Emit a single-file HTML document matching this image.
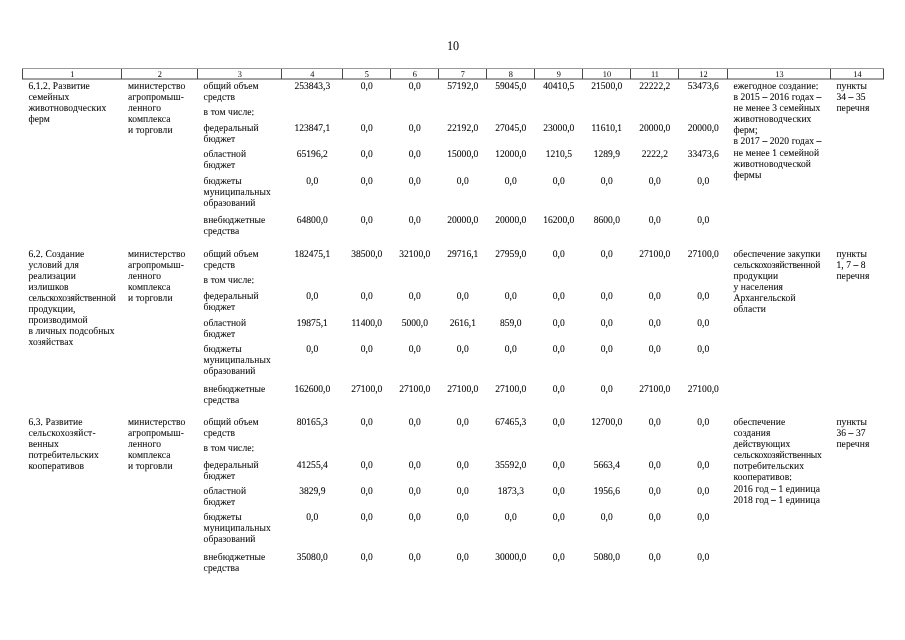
<!DOCTYPE html>
<html lang="ru"><head><meta charset="utf-8"><title>10</title><style>
html,body{margin:0;padding:0;background:#fff;}
body{width:905px;height:640px;position:relative;overflow:hidden;text-rendering:geometricPrecision;-webkit-text-stroke:0.05px #000;font-family:"Liberation Serif",serif;color:#000;}
.t{position:absolute;transform:scaleY(1.07);transform-origin:0 8px;font-size:9.55px;line-height:11px;white-space:nowrap;letter-spacing:0.08px;}
.n{position:absolute;transform:scaleY(1.07);transform-origin:0 8px;font-size:9.55px;line-height:11px;white-space:nowrap;text-align:center;}
.h{position:absolute;-webkit-text-stroke:0;transform:scaleY(1.06);transform-origin:50% 7px;font-size:8.3px;line-height:9px;text-align:center;top:70px;}
.pg{position:absolute;-webkit-text-stroke:0;left:422.7px;width:60px;text-align:center;top:37.9px;font-size:13.1px;line-height:15px;text-rendering:geometricPrecision;transform:scaleX(0.93);transform-origin:50% 50%;}
.ln{position:absolute;background:#555;}
</style></head><body>
<div class="pg">10</div>
<div class="ln" style="left:22px;top:68px;width:862px;height:1px;background:#999"></div>
<div class="ln" style="left:22px;top:78px;width:862px;height:2px;background:#a2a2a2"></div>
<div class="ln" style="left:22px;top:69px;width:1px;height:10px;background:#4a4a4a"></div>
<div class="ln" style="left:121px;top:69px;width:1px;height:10px;background:#4a4a4a"></div>
<div class="ln" style="left:197px;top:69px;width:1px;height:10px;background:#4a4a4a"></div>
<div class="ln" style="left:281px;top:69px;width:1px;height:10px;background:#4a4a4a"></div>
<div class="ln" style="left:342px;top:69px;width:1px;height:10px;background:#4a4a4a"></div>
<div class="ln" style="left:390px;top:69px;width:1px;height:10px;background:#4a4a4a"></div>
<div class="ln" style="left:438px;top:69px;width:1px;height:10px;background:#4a4a4a"></div>
<div class="ln" style="left:486px;top:69px;width:1px;height:10px;background:#4a4a4a"></div>
<div class="ln" style="left:534px;top:69px;width:1px;height:10px;background:#4a4a4a"></div>
<div class="ln" style="left:582px;top:69px;width:1px;height:10px;background:#4a4a4a"></div>
<div class="ln" style="left:630px;top:69px;width:1px;height:10px;background:#4a4a4a"></div>
<div class="ln" style="left:678px;top:69px;width:1px;height:10px;background:#4a4a4a"></div>
<div class="ln" style="left:727px;top:69px;width:1px;height:10px;background:#4a4a4a"></div>
<div class="ln" style="left:830px;top:69px;width:1px;height:10px;background:#4a4a4a"></div>
<div class="ln" style="left:883px;top:69px;width:1px;height:10px;background:#4a4a4a"></div>
<div class="h" style="left:23.4px;width:98px">1</div>
<div class="h" style="left:122.4px;width:75px">2</div>
<div class="h" style="left:198.4px;width:83px">3</div>
<div class="h" style="left:282.4px;width:60px">4</div>
<div class="h" style="left:343.4px;width:47px">5</div>
<div class="h" style="left:391.4px;width:47px">6</div>
<div class="h" style="left:439.4px;width:47px">7</div>
<div class="h" style="left:487.4px;width:47px">8</div>
<div class="h" style="left:535.4px;width:47px">9</div>
<div class="h" style="left:583.4px;width:47px">10</div>
<div class="h" style="left:631.4px;width:47px">11</div>
<div class="h" style="left:679.4px;width:48px">12</div>
<div class="h" style="left:728.4px;width:102px">13</div>
<div class="h" style="left:831.4px;width:52px">14</div>
<div class="t" style="left:28.4px;top:81px;">6.1.2. Развитие</div>
<div class="t" style="left:28.4px;top:92px;">семейных</div>
<div class="t" style="left:28.4px;top:103px;">животноводческих</div>
<div class="t" style="left:28.4px;top:114px;">ферм</div>
<div class="t" style="left:128.0px;top:81px;">министерство</div>
<div class="t" style="left:128.0px;top:92px;">агропромыш-</div>
<div class="t" style="left:128.0px;top:103px;">ленного</div>
<div class="t" style="left:128.0px;top:114px;">комплекса</div>
<div class="t" style="left:128.0px;top:125px;">и торговли</div>
<div class="t" style="left:203.6px;top:81px;">общий объем</div>
<div class="t" style="left:203.6px;top:92px;">средств</div>
<div class="t" style="left:203.6px;top:107px;">в том числе:</div>
<div class="t" style="left:203.6px;top:123px;">федеральный</div>
<div class="t" style="left:203.6px;top:134px;">бюджет</div>
<div class="t" style="left:203.6px;top:149px;">областной</div>
<div class="t" style="left:203.6px;top:160px;">бюджет</div>
<div class="t" style="left:203.6px;top:176px;">бюджеты</div>
<div class="t" style="left:203.6px;top:187px;">муниципальных</div>
<div class="t" style="left:203.6px;top:198px;">образований</div>
<div class="t" style="left:203.6px;top:215px;">внебюджетные</div>
<div class="t" style="left:203.6px;top:226px;">средства</div>
<div class="n" style="left:281.8px;top:81px;width:61.0px;">253843,3</div>
<div class="n" style="left:342.8px;top:81px;width:48.0px;">0,0</div>
<div class="n" style="left:390.8px;top:81px;width:48.0px;">0,0</div>
<div class="n" style="left:438.8px;top:81px;width:48.0px;">57192,0</div>
<div class="n" style="left:486.8px;top:81px;width:48.0px;">59045,0</div>
<div class="n" style="left:534.8px;top:81px;width:48.0px;">40410,5</div>
<div class="n" style="left:582.8px;top:81px;width:48.0px;">21500,0</div>
<div class="n" style="left:630.8px;top:81px;width:48.0px;">22222,2</div>
<div class="n" style="left:678.8px;top:81px;width:49.0px;">53473,6</div>
<div class="n" style="left:281.8px;top:123px;width:61.0px;">123847,1</div>
<div class="n" style="left:342.8px;top:123px;width:48.0px;">0,0</div>
<div class="n" style="left:390.8px;top:123px;width:48.0px;">0,0</div>
<div class="n" style="left:438.8px;top:123px;width:48.0px;">22192,0</div>
<div class="n" style="left:486.8px;top:123px;width:48.0px;">27045,0</div>
<div class="n" style="left:534.8px;top:123px;width:48.0px;">23000,0</div>
<div class="n" style="left:582.8px;top:123px;width:48.0px;">11610,1</div>
<div class="n" style="left:630.8px;top:123px;width:48.0px;">20000,0</div>
<div class="n" style="left:678.8px;top:123px;width:49.0px;">20000,0</div>
<div class="n" style="left:281.8px;top:149px;width:61.0px;">65196,2</div>
<div class="n" style="left:342.8px;top:149px;width:48.0px;">0,0</div>
<div class="n" style="left:390.8px;top:149px;width:48.0px;">0,0</div>
<div class="n" style="left:438.8px;top:149px;width:48.0px;">15000,0</div>
<div class="n" style="left:486.8px;top:149px;width:48.0px;">12000,0</div>
<div class="n" style="left:534.8px;top:149px;width:48.0px;">1210,5</div>
<div class="n" style="left:582.8px;top:149px;width:48.0px;">1289,9</div>
<div class="n" style="left:630.8px;top:149px;width:48.0px;">2222,2</div>
<div class="n" style="left:678.8px;top:149px;width:49.0px;">33473,6</div>
<div class="n" style="left:281.8px;top:176px;width:61.0px;">0,0</div>
<div class="n" style="left:342.8px;top:176px;width:48.0px;">0,0</div>
<div class="n" style="left:390.8px;top:176px;width:48.0px;">0,0</div>
<div class="n" style="left:438.8px;top:176px;width:48.0px;">0,0</div>
<div class="n" style="left:486.8px;top:176px;width:48.0px;">0,0</div>
<div class="n" style="left:534.8px;top:176px;width:48.0px;">0,0</div>
<div class="n" style="left:582.8px;top:176px;width:48.0px;">0,0</div>
<div class="n" style="left:630.8px;top:176px;width:48.0px;">0,0</div>
<div class="n" style="left:678.8px;top:176px;width:49.0px;">0,0</div>
<div class="n" style="left:281.8px;top:215px;width:61.0px;">64800,0</div>
<div class="n" style="left:342.8px;top:215px;width:48.0px;">0,0</div>
<div class="n" style="left:390.8px;top:215px;width:48.0px;">0,0</div>
<div class="n" style="left:438.8px;top:215px;width:48.0px;">20000,0</div>
<div class="n" style="left:486.8px;top:215px;width:48.0px;">20000,0</div>
<div class="n" style="left:534.8px;top:215px;width:48.0px;">16200,0</div>
<div class="n" style="left:582.8px;top:215px;width:48.0px;">8600,0</div>
<div class="n" style="left:630.8px;top:215px;width:48.0px;">0,0</div>
<div class="n" style="left:678.8px;top:215px;width:49.0px;">0,0</div>
<div class="t" style="left:733.5px;top:81px;">ежегодное создание:</div>
<div class="t" style="left:733.5px;top:92px;">в 2015 – 2016 годах –</div>
<div class="t" style="left:733.5px;top:103px;">не менее 3 семейных</div>
<div class="t" style="left:733.5px;top:114px;">животноводческих</div>
<div class="t" style="left:733.5px;top:125px;">ферм;</div>
<div class="t" style="left:733.5px;top:136px;">в 2017 – 2020 годах –</div>
<div class="t" style="left:733.5px;top:148px;">не менее 1 семейной</div>
<div class="t" style="left:733.5px;top:159px;">животноводческой</div>
<div class="t" style="left:733.5px;top:170px;">фермы</div>
<div class="t" style="left:836.4px;top:81px;">пункты</div>
<div class="t" style="left:836.4px;top:92px;">34 – 35</div>
<div class="t" style="left:836.4px;top:103px;">перечня</div>
<div class="t" style="left:28.4px;top:249px;">6.2. Создание</div>
<div class="t" style="left:28.4px;top:260px;">условий для</div>
<div class="t" style="left:28.4px;top:271px;">реализации</div>
<div class="t" style="left:28.4px;top:282px;">излишков</div>
<div class="t" style="left:28.4px;top:293px;letter-spacing:-0.145px;">сельскохозяйственной</div>
<div class="t" style="left:28.4px;top:304px;">продукции,</div>
<div class="t" style="left:28.4px;top:315px;">производимой</div>
<div class="t" style="left:28.4px;top:326px;">в личных подсобных</div>
<div class="t" style="left:28.4px;top:337px;">хозяйствах</div>
<div class="t" style="left:128.0px;top:249px;">министерство</div>
<div class="t" style="left:128.0px;top:260px;">агропромыш-</div>
<div class="t" style="left:128.0px;top:271px;">ленного</div>
<div class="t" style="left:128.0px;top:282px;">комплекса</div>
<div class="t" style="left:128.0px;top:293px;">и торговли</div>
<div class="t" style="left:203.6px;top:249px;">общий объем</div>
<div class="t" style="left:203.6px;top:260px;">средств</div>
<div class="t" style="left:203.6px;top:275px;">в том числе:</div>
<div class="t" style="left:203.6px;top:291px;">федеральный</div>
<div class="t" style="left:203.6px;top:302px;">бюджет</div>
<div class="t" style="left:203.6px;top:318px;">областной</div>
<div class="t" style="left:203.6px;top:329px;">бюджет</div>
<div class="t" style="left:203.6px;top:344px;">бюджеты</div>
<div class="t" style="left:203.6px;top:355px;">муниципальных</div>
<div class="t" style="left:203.6px;top:366px;">образований</div>
<div class="t" style="left:203.6px;top:384px;">внебюджетные</div>
<div class="t" style="left:203.6px;top:395px;">средства</div>
<div class="n" style="left:281.8px;top:249px;width:61.0px;">182475,1</div>
<div class="n" style="left:342.8px;top:249px;width:48.0px;">38500,0</div>
<div class="n" style="left:390.8px;top:249px;width:48.0px;">32100,0</div>
<div class="n" style="left:438.8px;top:249px;width:48.0px;">29716,1</div>
<div class="n" style="left:486.8px;top:249px;width:48.0px;">27959,0</div>
<div class="n" style="left:534.8px;top:249px;width:48.0px;">0,0</div>
<div class="n" style="left:582.8px;top:249px;width:48.0px;">0,0</div>
<div class="n" style="left:630.8px;top:249px;width:48.0px;">27100,0</div>
<div class="n" style="left:678.8px;top:249px;width:49.0px;">27100,0</div>
<div class="n" style="left:281.8px;top:291px;width:61.0px;">0,0</div>
<div class="n" style="left:342.8px;top:291px;width:48.0px;">0,0</div>
<div class="n" style="left:390.8px;top:291px;width:48.0px;">0,0</div>
<div class="n" style="left:438.8px;top:291px;width:48.0px;">0,0</div>
<div class="n" style="left:486.8px;top:291px;width:48.0px;">0,0</div>
<div class="n" style="left:534.8px;top:291px;width:48.0px;">0,0</div>
<div class="n" style="left:582.8px;top:291px;width:48.0px;">0,0</div>
<div class="n" style="left:630.8px;top:291px;width:48.0px;">0,0</div>
<div class="n" style="left:678.8px;top:291px;width:49.0px;">0,0</div>
<div class="n" style="left:281.8px;top:318px;width:61.0px;">19875,1</div>
<div class="n" style="left:342.8px;top:318px;width:48.0px;">11400,0</div>
<div class="n" style="left:390.8px;top:318px;width:48.0px;">5000,0</div>
<div class="n" style="left:438.8px;top:318px;width:48.0px;">2616,1</div>
<div class="n" style="left:486.8px;top:318px;width:48.0px;">859,0</div>
<div class="n" style="left:534.8px;top:318px;width:48.0px;">0,0</div>
<div class="n" style="left:582.8px;top:318px;width:48.0px;">0,0</div>
<div class="n" style="left:630.8px;top:318px;width:48.0px;">0,0</div>
<div class="n" style="left:678.8px;top:318px;width:49.0px;">0,0</div>
<div class="n" style="left:281.8px;top:344px;width:61.0px;">0,0</div>
<div class="n" style="left:342.8px;top:344px;width:48.0px;">0,0</div>
<div class="n" style="left:390.8px;top:344px;width:48.0px;">0,0</div>
<div class="n" style="left:438.8px;top:344px;width:48.0px;">0,0</div>
<div class="n" style="left:486.8px;top:344px;width:48.0px;">0,0</div>
<div class="n" style="left:534.8px;top:344px;width:48.0px;">0,0</div>
<div class="n" style="left:582.8px;top:344px;width:48.0px;">0,0</div>
<div class="n" style="left:630.8px;top:344px;width:48.0px;">0,0</div>
<div class="n" style="left:678.8px;top:344px;width:49.0px;">0,0</div>
<div class="n" style="left:281.8px;top:384px;width:61.0px;">162600,0</div>
<div class="n" style="left:342.8px;top:384px;width:48.0px;">27100,0</div>
<div class="n" style="left:390.8px;top:384px;width:48.0px;">27100,0</div>
<div class="n" style="left:438.8px;top:384px;width:48.0px;">27100,0</div>
<div class="n" style="left:486.8px;top:384px;width:48.0px;">27100,0</div>
<div class="n" style="left:534.8px;top:384px;width:48.0px;">0,0</div>
<div class="n" style="left:582.8px;top:384px;width:48.0px;">0,0</div>
<div class="n" style="left:630.8px;top:384px;width:48.0px;">27100,0</div>
<div class="n" style="left:678.8px;top:384px;width:49.0px;">27100,0</div>
<div class="t" style="left:733.5px;top:249px;">обеспечение закупки</div>
<div class="t" style="left:733.5px;top:260px;letter-spacing:-0.185px;">сельскохозяйственной</div>
<div class="t" style="left:733.5px;top:271px;">продукции</div>
<div class="t" style="left:733.5px;top:282px;">у населения</div>
<div class="t" style="left:733.5px;top:293px;">Архангельской</div>
<div class="t" style="left:733.5px;top:304px;">области</div>
<div class="t" style="left:836.4px;top:249px;">пункты</div>
<div class="t" style="left:836.4px;top:260px;">1, 7 – 8</div>
<div class="t" style="left:836.4px;top:271px;">перечня</div>
<div class="t" style="left:28.4px;top:417px;">6.3. Развитие</div>
<div class="t" style="left:28.4px;top:428px;letter-spacing:0.18px;">сельскохозяйст-</div>
<div class="t" style="left:28.4px;top:439px;">венных</div>
<div class="t" style="left:28.4px;top:450px;">потребительских</div>
<div class="t" style="left:28.4px;top:461px;">кооперативов</div>
<div class="t" style="left:128.0px;top:417px;">министерство</div>
<div class="t" style="left:128.0px;top:428px;">агропромыш-</div>
<div class="t" style="left:128.0px;top:439px;">ленного</div>
<div class="t" style="left:128.0px;top:450px;">комплекса</div>
<div class="t" style="left:128.0px;top:461px;">и торговли</div>
<div class="t" style="left:203.6px;top:417px;">общий объем</div>
<div class="t" style="left:203.6px;top:428px;">средств</div>
<div class="t" style="left:203.6px;top:443px;">в том числе:</div>
<div class="t" style="left:203.6px;top:460px;">федеральный</div>
<div class="t" style="left:203.6px;top:471px;">бюджет</div>
<div class="t" style="left:203.6px;top:486px;">областной</div>
<div class="t" style="left:203.6px;top:497px;">бюджет</div>
<div class="t" style="left:203.6px;top:512px;">бюджеты</div>
<div class="t" style="left:203.6px;top:523px;">муниципальных</div>
<div class="t" style="left:203.6px;top:534px;">образований</div>
<div class="t" style="left:203.6px;top:552px;">внебюджетные</div>
<div class="t" style="left:203.6px;top:563px;">средства</div>
<div class="n" style="left:281.8px;top:417px;width:61.0px;">80165,3</div>
<div class="n" style="left:342.8px;top:417px;width:48.0px;">0,0</div>
<div class="n" style="left:390.8px;top:417px;width:48.0px;">0,0</div>
<div class="n" style="left:438.8px;top:417px;width:48.0px;">0,0</div>
<div class="n" style="left:486.8px;top:417px;width:48.0px;">67465,3</div>
<div class="n" style="left:534.8px;top:417px;width:48.0px;">0,0</div>
<div class="n" style="left:582.8px;top:417px;width:48.0px;">12700,0</div>
<div class="n" style="left:630.8px;top:417px;width:48.0px;">0,0</div>
<div class="n" style="left:678.8px;top:417px;width:49.0px;">0,0</div>
<div class="n" style="left:281.8px;top:460px;width:61.0px;">41255,4</div>
<div class="n" style="left:342.8px;top:460px;width:48.0px;">0,0</div>
<div class="n" style="left:390.8px;top:460px;width:48.0px;">0,0</div>
<div class="n" style="left:438.8px;top:460px;width:48.0px;">0,0</div>
<div class="n" style="left:486.8px;top:460px;width:48.0px;">35592,0</div>
<div class="n" style="left:534.8px;top:460px;width:48.0px;">0,0</div>
<div class="n" style="left:582.8px;top:460px;width:48.0px;">5663,4</div>
<div class="n" style="left:630.8px;top:460px;width:48.0px;">0,0</div>
<div class="n" style="left:678.8px;top:460px;width:49.0px;">0,0</div>
<div class="n" style="left:281.8px;top:486px;width:61.0px;">3829,9</div>
<div class="n" style="left:342.8px;top:486px;width:48.0px;">0,0</div>
<div class="n" style="left:390.8px;top:486px;width:48.0px;">0,0</div>
<div class="n" style="left:438.8px;top:486px;width:48.0px;">0,0</div>
<div class="n" style="left:486.8px;top:486px;width:48.0px;">1873,3</div>
<div class="n" style="left:534.8px;top:486px;width:48.0px;">0,0</div>
<div class="n" style="left:582.8px;top:486px;width:48.0px;">1956,6</div>
<div class="n" style="left:630.8px;top:486px;width:48.0px;">0,0</div>
<div class="n" style="left:678.8px;top:486px;width:49.0px;">0,0</div>
<div class="n" style="left:281.8px;top:512px;width:61.0px;">0,0</div>
<div class="n" style="left:342.8px;top:512px;width:48.0px;">0,0</div>
<div class="n" style="left:390.8px;top:512px;width:48.0px;">0,0</div>
<div class="n" style="left:438.8px;top:512px;width:48.0px;">0,0</div>
<div class="n" style="left:486.8px;top:512px;width:48.0px;">0,0</div>
<div class="n" style="left:534.8px;top:512px;width:48.0px;">0,0</div>
<div class="n" style="left:582.8px;top:512px;width:48.0px;">0,0</div>
<div class="n" style="left:630.8px;top:512px;width:48.0px;">0,0</div>
<div class="n" style="left:678.8px;top:512px;width:49.0px;">0,0</div>
<div class="n" style="left:281.8px;top:552px;width:61.0px;">35080,0</div>
<div class="n" style="left:342.8px;top:552px;width:48.0px;">0,0</div>
<div class="n" style="left:390.8px;top:552px;width:48.0px;">0,0</div>
<div class="n" style="left:438.8px;top:552px;width:48.0px;">0,0</div>
<div class="n" style="left:486.8px;top:552px;width:48.0px;">30000,0</div>
<div class="n" style="left:534.8px;top:552px;width:48.0px;">0,0</div>
<div class="n" style="left:582.8px;top:552px;width:48.0px;">5080,0</div>
<div class="n" style="left:630.8px;top:552px;width:48.0px;">0,0</div>
<div class="n" style="left:678.8px;top:552px;width:49.0px;">0,0</div>
<div class="t" style="left:733.5px;top:417px;">обеспечение</div>
<div class="t" style="left:733.5px;top:428px;">создания</div>
<div class="t" style="left:733.5px;top:439px;">действующих</div>
<div class="t" style="left:733.5px;top:450px;letter-spacing:-0.17px;">сельскохозяйственных</div>
<div class="t" style="left:733.5px;top:461px;">потребительских</div>
<div class="t" style="left:733.5px;top:472px;">кооперативов:</div>
<div class="t" style="left:733.5px;top:484px;">2016 год – 1 единица</div>
<div class="t" style="left:733.5px;top:495px;">2018 год – 1 единица</div>
<div class="t" style="left:836.4px;top:417px;">пункты</div>
<div class="t" style="left:836.4px;top:428px;">36 – 37</div>
<div class="t" style="left:836.4px;top:439px;">перечня</div>
</body></html>
